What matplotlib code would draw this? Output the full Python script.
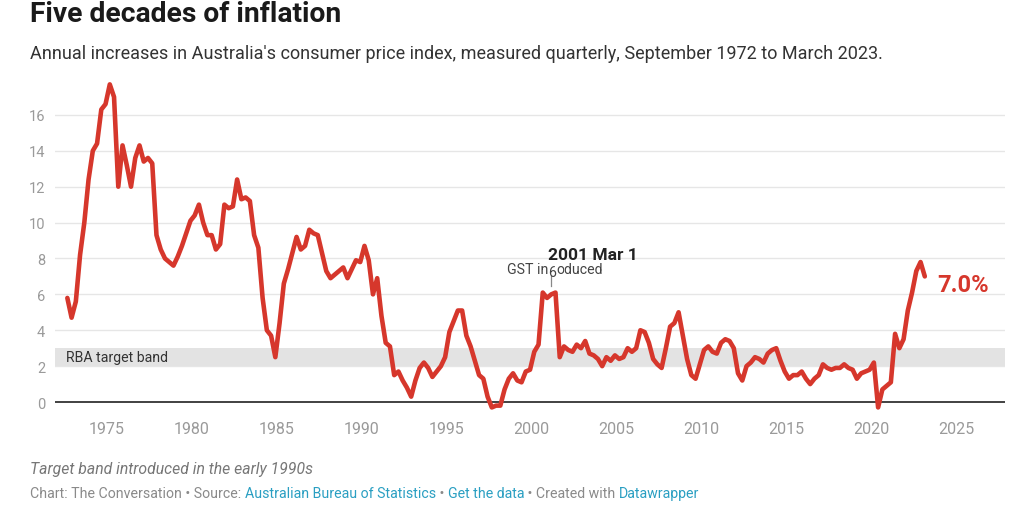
import matplotlib
matplotlib.use("Agg")
import matplotlib.pyplot as plt
import numpy as np
import pandas as pd

# ---------------- data (annual % change in CPI, quarterly) ----------------
start_date = "1972-09-01"
end_date = "2023-03-01"
cpi_1972_1979 = [5.8, 4.7,
                 5.6, 8.2, 10.0, 12.4,
                 14.0, 14.4, 16.3, 16.6,
                 17.7, 17.0, 12.0, 14.3,
                 13.2, 12.0, 13.6, 14.3,
                 13.4, 13.6, 13.3, 9.3,
                 8.5, 8.0, 7.8, 7.6,
                 8.1, 8.7, 9.4, 10.1]
cpi_1980s = [10.4, 11.0, 10.0, 9.3,
             9.3, 8.5, 8.8, 11.0,
             10.8, 10.9, 12.4, 11.3,
             11.4, 11.2, 9.3, 8.6,
             5.8, 4.0, 3.7, 2.5,
             4.4, 6.6, 7.4, 8.3,
             9.2, 8.5, 8.7, 9.6,
             9.4, 9.3, 8.3, 7.3,
             6.9, 7.1, 7.3, 7.5,
             6.9, 7.4, 7.9, 7.8]
cpi_1990s = [8.7, 7.9, 6.0, 6.9,
             4.8, 3.3, 3.1, 1.5,
             1.7, 1.2, 0.8, 0.3,
             1.2, 1.9, 2.2, 1.9,
             1.4, 1.7, 2.0, 2.5,
             3.9, 4.5, 5.1, 5.1,
             3.7, 3.1, 2.3, 1.5,
             1.3, 0.3, -0.3, -0.2,
             -0.2, 0.7, 1.3, 1.6,
             1.2, 1.1, 1.7, 1.8]
cpi_2000s = [2.8, 3.2, 6.1, 5.8,
             6.0, 6.1, 2.5, 3.1,
             2.9, 2.8, 3.2, 3.0,
             3.4, 2.7, 2.6, 2.4,
             2.0, 2.5, 2.3, 2.6,
             2.4, 2.5, 3.0, 2.8,
             3.0, 4.0, 3.9, 3.3,
             2.4, 2.1, 1.9, 3.0,
             4.2, 4.4, 5.0, 3.7,
             2.4, 1.5, 1.3, 2.1]
cpi_2010s = [2.9, 3.1, 2.8, 2.7,
             3.3, 3.5, 3.4, 3.0,
             1.6, 1.2, 2.0, 2.2,
             2.5, 2.4, 2.2, 2.7,
             2.9, 3.0, 2.3, 1.7,
             1.3, 1.5, 1.5, 1.7,
             1.3, 1.0, 1.3, 1.5,
             2.1, 1.9, 1.8, 1.9,
             1.9, 2.1, 1.9, 1.8,
             1.3, 1.6, 1.7, 1.8]
cpi_2020s = [2.2, -0.3, 0.7, 0.9,
             1.1, 3.8, 3.0, 3.5,
             5.1, 6.1, 7.3, 7.8,
             7.0]
band_low, band_high = 2, 3
y_ticks = [0, 2, 4, 6, 8, 10, 12, 14, 16]
x_ticks = [1975, 1980, 1985, 1990, 1995, 2000, 2005, 2010, 2015, 2020, 2025]
annot_date = "2001-03-01"
annot_title = "2001 Mar 1"
annot_label = ("GST in", "6", "oduced")

values = np.array(cpi_1972_1979 + cpi_1980s + cpi_1990s + cpi_2000s + cpi_2010s + cpi_2020s)
dates = pd.date_range(start_date, end_date, freq="3MS")
assert len(dates) == len(values), (len(dates), len(values))
years = dates.year + (dates.month - 1) / 12.0

# ---------------- figure ----------------
W, H = 1024, 506
plt.rcParams['font.family'] = ['Roboto', 'DejaVu Sans']
fig = plt.figure(figsize=(W / 100, H / 100), dpi=100)
fig.patch.set_facecolor("white")

ax_l, ax_r, ax_t, ax_b = 55, 1005, 80, 413.8
ax = fig.add_axes([ax_l / W, 1 - ax_b / H, (ax_r - ax_l) / W, (ax_b - ax_t) / H])
ax.set_xlim(1971.94, 2027.89)
ax.set_ylim(-0.6, 18.0)

for s in ax.spines.values():
    s.set_visible(False)

ax.set_yticks(y_ticks)
ax.set_xticks(x_ticks)
ax.tick_params(axis='both', length=0, labelcolor='#9a9a9a')
ax.tick_params(axis='y', pad=7, labelsize=10.5)
ax.tick_params(axis='x', pad=6, labelsize=11.5)
for lbl in ax.get_yticklabels():
    lbl.set_horizontalalignment('right')

for v in y_ticks[1:]:
    ax.axhline(v, color='#e6e6e6', lw=1.0, zorder=1)
ax.axhspan(band_low, band_high, color='#e3e3e3', lw=0, zorder=1)
ax.axhline(0, color='#333333', lw=1.3, zorder=2)

ax.text(1972.6, (band_low + band_high) / 2, "RBA target band", fontsize=10.2,
        color='#333333', va='center', ha='left', zorder=3)

red = '#d6372c'
ax.plot(years, values, color=red, lw=3.3, solid_joinstyle='round',
        solid_capstyle='round', zorder=4)

# end label
ax.annotate(f"{values[-1]:.1f}%", xy=(years[-1], values[-1]), xytext=(9, -6),
            textcoords='offset points', color=red, fontsize=17, fontweight='bold',
            va='center', ha='left')

# GST annotation
ad = pd.Timestamp(annot_date)
ax_year = ad.year + (ad.month - 1) / 12.0
ax.plot([ax_year, ax_year], [6.45, 7.0], color='#888888', lw=0.9, zorder=3)
ax.text(ax_year - 0.2, 8.2, annot_title, fontsize=12.5, fontweight='bold',
        color='#222222', ha='left', va='center', zorder=5)
ax.text(ax_year - 0.15, 7.4, annot_label[0], fontsize=10.2, color='#444444',
        ha='right', va='center', zorder=5)
ax.text(ax_year + 0.05, 7.25, annot_label[1], fontsize=10.2, color='#444444',
        ha='center', va='center', zorder=6)
ax.text(ax_year + 0.32, 7.4, annot_label[2], fontsize=10.2, color='#444444',
        ha='left', va='center', zorder=5)

# ---------------- titles & footer ----------------
def ftext(x_px, y_px, s, **kw):
    return fig.text(x_px / W, 1 - y_px / H, s, **kw)

ftext(30, 15, "Five decades of inflation", fontsize=20.3, fontweight='bold',
      color='#1a1a1a', va='center', ha='left')
ftext(30, 54, "Annual increases in Australia's consumer price index, measured quarterly, "
      "September 1972 to March 2023.", fontsize=13, color='#333333',
      va='center', ha='left')
ftext(30, 470, "Target band introduced in the early 1990s", fontsize=11.3,
      style='italic', color='#777777', va='center', ha='left')

renderer = fig.canvas.get_renderer()
gray, link = '#8a8a8a', '#2a9fc2'
pieces = [("Chart: The Conversation \u2022 Source: ", gray),
          ("Australian Bureau of Statistics", link),
          (" \u2022 ", gray),
          ("Get the data", link),
          (" \u2022 Created with ", gray),
          ("Datawrapper", link)]
x = 30.0
for s, c in pieces:
    t = ftext(x, 494, s, fontsize=10.2, color=c, va='center', ha='left')
    bb = t.get_window_extent(renderer=renderer)
    x += bb.width

fig.savefig("out.png", dpi=100, facecolor='white')
